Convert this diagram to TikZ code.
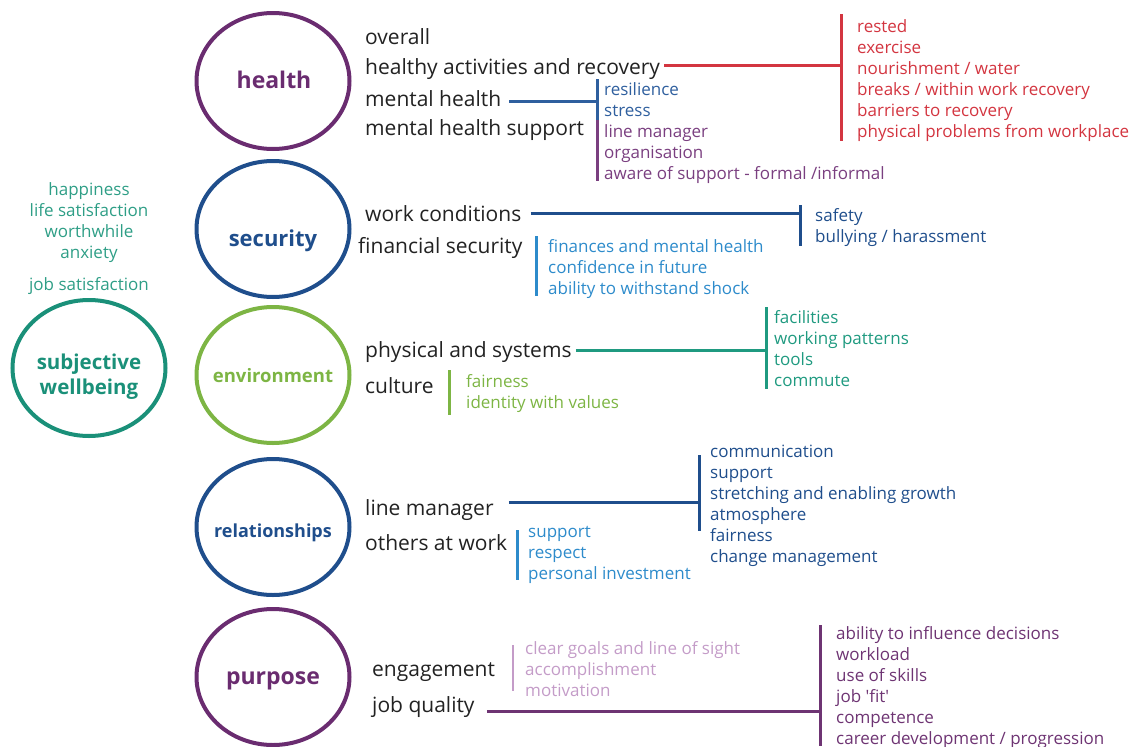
\documentclass[tikz,border=0pt]{standalone}
\usepackage{fontspec}
\setmainfont{Open Sans}
\usetikzlibrary{shapes.geometric,calc}
\definecolor{txt}{HTML}{222222}
\definecolor{purpD}{HTML}{6A2C70}
\definecolor{blueD}{HTML}{1F4E8C}
\definecolor{grn}{HTML}{7DB544}
\definecolor{tealD}{HTML}{1A9079}
\definecolor{tealL}{HTML}{2E9E86}
\definecolor{redc}{HTML}{D33540}
\definecolor{lblue}{HTML}{2D8BCB}
\definecolor{mhblue}{HTML}{2F5F9E}
\definecolor{mhpurp}{HTML}{7A3F80}
\definecolor{envteal}{HTML}{1F9A80}
\definecolor{lpurp}{HTML}{C49CC8}
\definecolor{pplist}{HTML}{6E3473}
\begin{document}
\begin{tikzpicture}[x=1pt,y=-1pt,
  main/.style={anchor=west,inner sep=0pt,yshift=-2.5pt,font=\fontsize{21}{25}\selectfont,text=txt,text height=15pt,text depth=4.6pt},
  sub/.style={anchor=west,inner sep=0pt,yshift=-2.5pt,font=\fontsize{17}{21}\selectfont,text height=12.2pt,text depth=3.7pt},
  ring/.style={draw,ellipse,line width=4pt,minimum width=153pt,minimum height=136pt,inner sep=0pt},
  ringlab/.style={inner sep=0pt,font=\bfseries,align=center},
  ln/.style={line width=3pt},
]
\useasboundingbox (0,0) rectangle (1138,747);

% rings
\node[ring,draw=purpD] (health) at (273,81) {};
\node[ring,draw=blueD] (security) at (273,229) {};
\node[ring,draw=grn] (environment) at (273,375) {};
\node[ring,draw=blueD] (relationships) at (273,527) {};
\node[ring,draw=purpD] (purpose) at (273,677) {};
\node[ring,draw=tealD] (swb) at (89,368) {};

\node[ringlab,text=purpD,font=\bfseries\fontsize{23}{26}\selectfont] (healthL) at (274,80) {health};
\node[ringlab,text=blueD,font=\bfseries\fontsize{22}{26}\selectfont] (securityL) at (273,241) {security};
\node[ringlab,text=grn,font=\bfseries\fontsize{18.5}{22}\selectfont] (environmentL) at (273,376) {environment};
\node[ringlab,text=blueD,font=\bfseries\fontsize{18}{22}\selectfont] (relationshipsL) at (273,533) {relationships};
\node[ringlab,text=purpD,font=\bfseries\fontsize{23}{26}\selectfont] (purposeL) at (273,681) {purpose};
\node[ringlab,text=tealD,font=\bfseries\fontsize{20.5}{25}\selectfont] (swbL) at (89,377) {subjective\\wellbeing};

% left list
\foreach \t/\y [count=\i] in {happiness/189,life satisfaction/210,worthwhile/231,anxiety/252,job satisfaction/284}
  \node[sub,anchor=center,text=tealL] (sw\i) at (89,\y) {\t};

% ---------- health
\node[main] (overall) at (365,37) {overall};
\node[main] (hac) at (365,67) {healthy activities and recovery};
\node[main] (mh) at (365,99) {mental health};
\node[main] (mhs) at (365,128) {mental health support};

\coordinate (rtop) at (841,14);
\coordinate (rbot) at (841,141);
\coordinate (rj) at (841,65);
\draw[ln,redc] (rtop) -- (rbot);
\draw[ln,redc] ($(rj -| hac.east)+(4,0)$) -- (rj);
\foreach \t [count=\i from 0] in {rested,exercise,nourishment / water,breaks / within work recovery,barriers to recovery,physical problems from workplace}
  \node[sub,text=redc] (red\i) at (857,{26+21*\i}) {\t};

\coordinate (mtop) at (597,79);
\coordinate (mmid) at (597,120);
\coordinate (mbot) at (597,181);
\coordinate (mj) at (597,101);
\draw[ln,mhblue] (mtop) -- (mmid);
\draw[ln,mhpurp] (mmid) -- (mbot);
\draw[ln,mhblue] ($(mj -| mh.east)+(8,0)$) -- (mj);
\node[sub,text=mhblue] (res) at (604,89) {resilience};
\node[sub,text=mhblue] (str) at (604,110) {stress};
\node[sub,text=mhpurp] (mlm) at (604,131) {line manager};
\node[sub,text=mhpurp] (org) at (604,152) {organisation};
\node[sub,text=mhpurp] (aware) at (604,173) {aware of support - formal /informal};

% ---------- security
\node[main] (wc) at (365,214) {work conditions};
\node[main] (fs) at (358,246) {financial security};
\coordinate (wtop) at (800,205);
\coordinate (wbot) at (800,246);
\coordinate (wj) at (800,213.5);
\draw[ln,blueD] (wtop) -- (wbot);
\draw[ln,blueD] ($(wj -| wc.east)+(9,0)$) -- (wj);
\node[sub,text=blueD] (safety) at (815,215) {safety};
\node[sub,text=blueD] (bully) at (815,236) {bullying / harassment};

\coordinate (ftop) at (536,236);
\coordinate (fbot) at (536,296);
\draw[ln,lblue] (ftop) -- (fbot);
\node[sub,text=lblue] (fin) at (548,246) {finances and mental health};
\node[sub,text=lblue] (conf) at (548,267) {confidence in future};
\node[sub,text=lblue] (abil) at (548,288) {ability to withstand shock};

% ---------- environment
\node[main] (pas) at (365,350) {physical and systems};
\node[main] (cult) at (365,386) {culture};
\coordinate (etop) at (766,307);
\coordinate (ebot) at (766,389);
\coordinate (ej) at (766,350);
\draw[ln,envteal] (etop) -- (ebot);
\draw[ln,envteal] ($(ej -| pas.east)+(4,0)$) -- (ej);
\foreach \t [count=\i from 0] in {facilities,working patterns,tools,commute}
  \node[sub,text=envteal] (env\i) at (774,{317+21*\i}) {\t};

\coordinate (ctop) at (449,370);
\coordinate (cbot) at (449,415);
\draw[ln,grn] (ctop) -- (cbot);
\node[sub,text=grn] (fair) at (466,381) {fairness};
\node[sub,text=grn] (ident) at (466,402) {identity with values};

% ---------- relationships
\node[main] (lm) at (365,508) {line manager};
\node[main] (oaw) at (365,543) {others at work};
\coordinate (ltop) at (699,455);
\coordinate (lbot) at (699,531);
\coordinate (lj) at (699,502);
\draw[ln,blueD] (ltop) -- (lbot);
\draw[ln,blueD] ($(lj -| lm.east)+(15,0)$) -- (lj);
\foreach \t [count=\i from 0] in {communication,support,stretching and enabling growth,atmosphere,fairness,change management}
  \node[sub,text=blueD] (lmi\i) at (710,{451+21*\i}) {\t};

\coordinate (otop) at (517,530);
\coordinate (obot) at (517,580);
\draw[ln,lblue] (otop) -- (obot);
\node[sub,text=lblue] (osup) at (528,531) {support};
\node[sub,text=lblue] (oresp) at (528,552) {respect};
\node[sub,text=lblue] (opers) at (528,573) {personal investment};

% ---------- purpose
\node[main] (eng) at (372,669) {engagement};
\node[main] (jq) at (372,705) {job quality};
\coordinate (gtop) at (513,645);
\coordinate (gbot) at (513,691);
\draw[line width=2.5pt,lpurp] (gtop) -- (gbot);
\node[sub,text=lpurp] (clear) at (525,648) {clear goals and line of sight};
\node[sub,text=lpurp] (accomp) at (525,669) {accomplishment};
\node[sub,text=lpurp] (motiv) at (525,690) {motivation};

\coordinate (qtop) at (820,625);
\coordinate (qbot) at (820,746);
\coordinate (qj) at (820,711);
\draw[ln,pplist] (qtop) -- (qbot);
\draw[ln,pplist] ($(qj -| jq.east)+(12,0)$) -- (qj);
\foreach \t [count=\i from 0] in {ability to influence decisions,workload,use of skills,job \textquotesingle fit\textquotesingle,competence,career development / progression}
  \node[sub,text=pplist] (jqi\i) at (836,{633+21*\i}) {\t};
\end{tikzpicture}
\end{document}
